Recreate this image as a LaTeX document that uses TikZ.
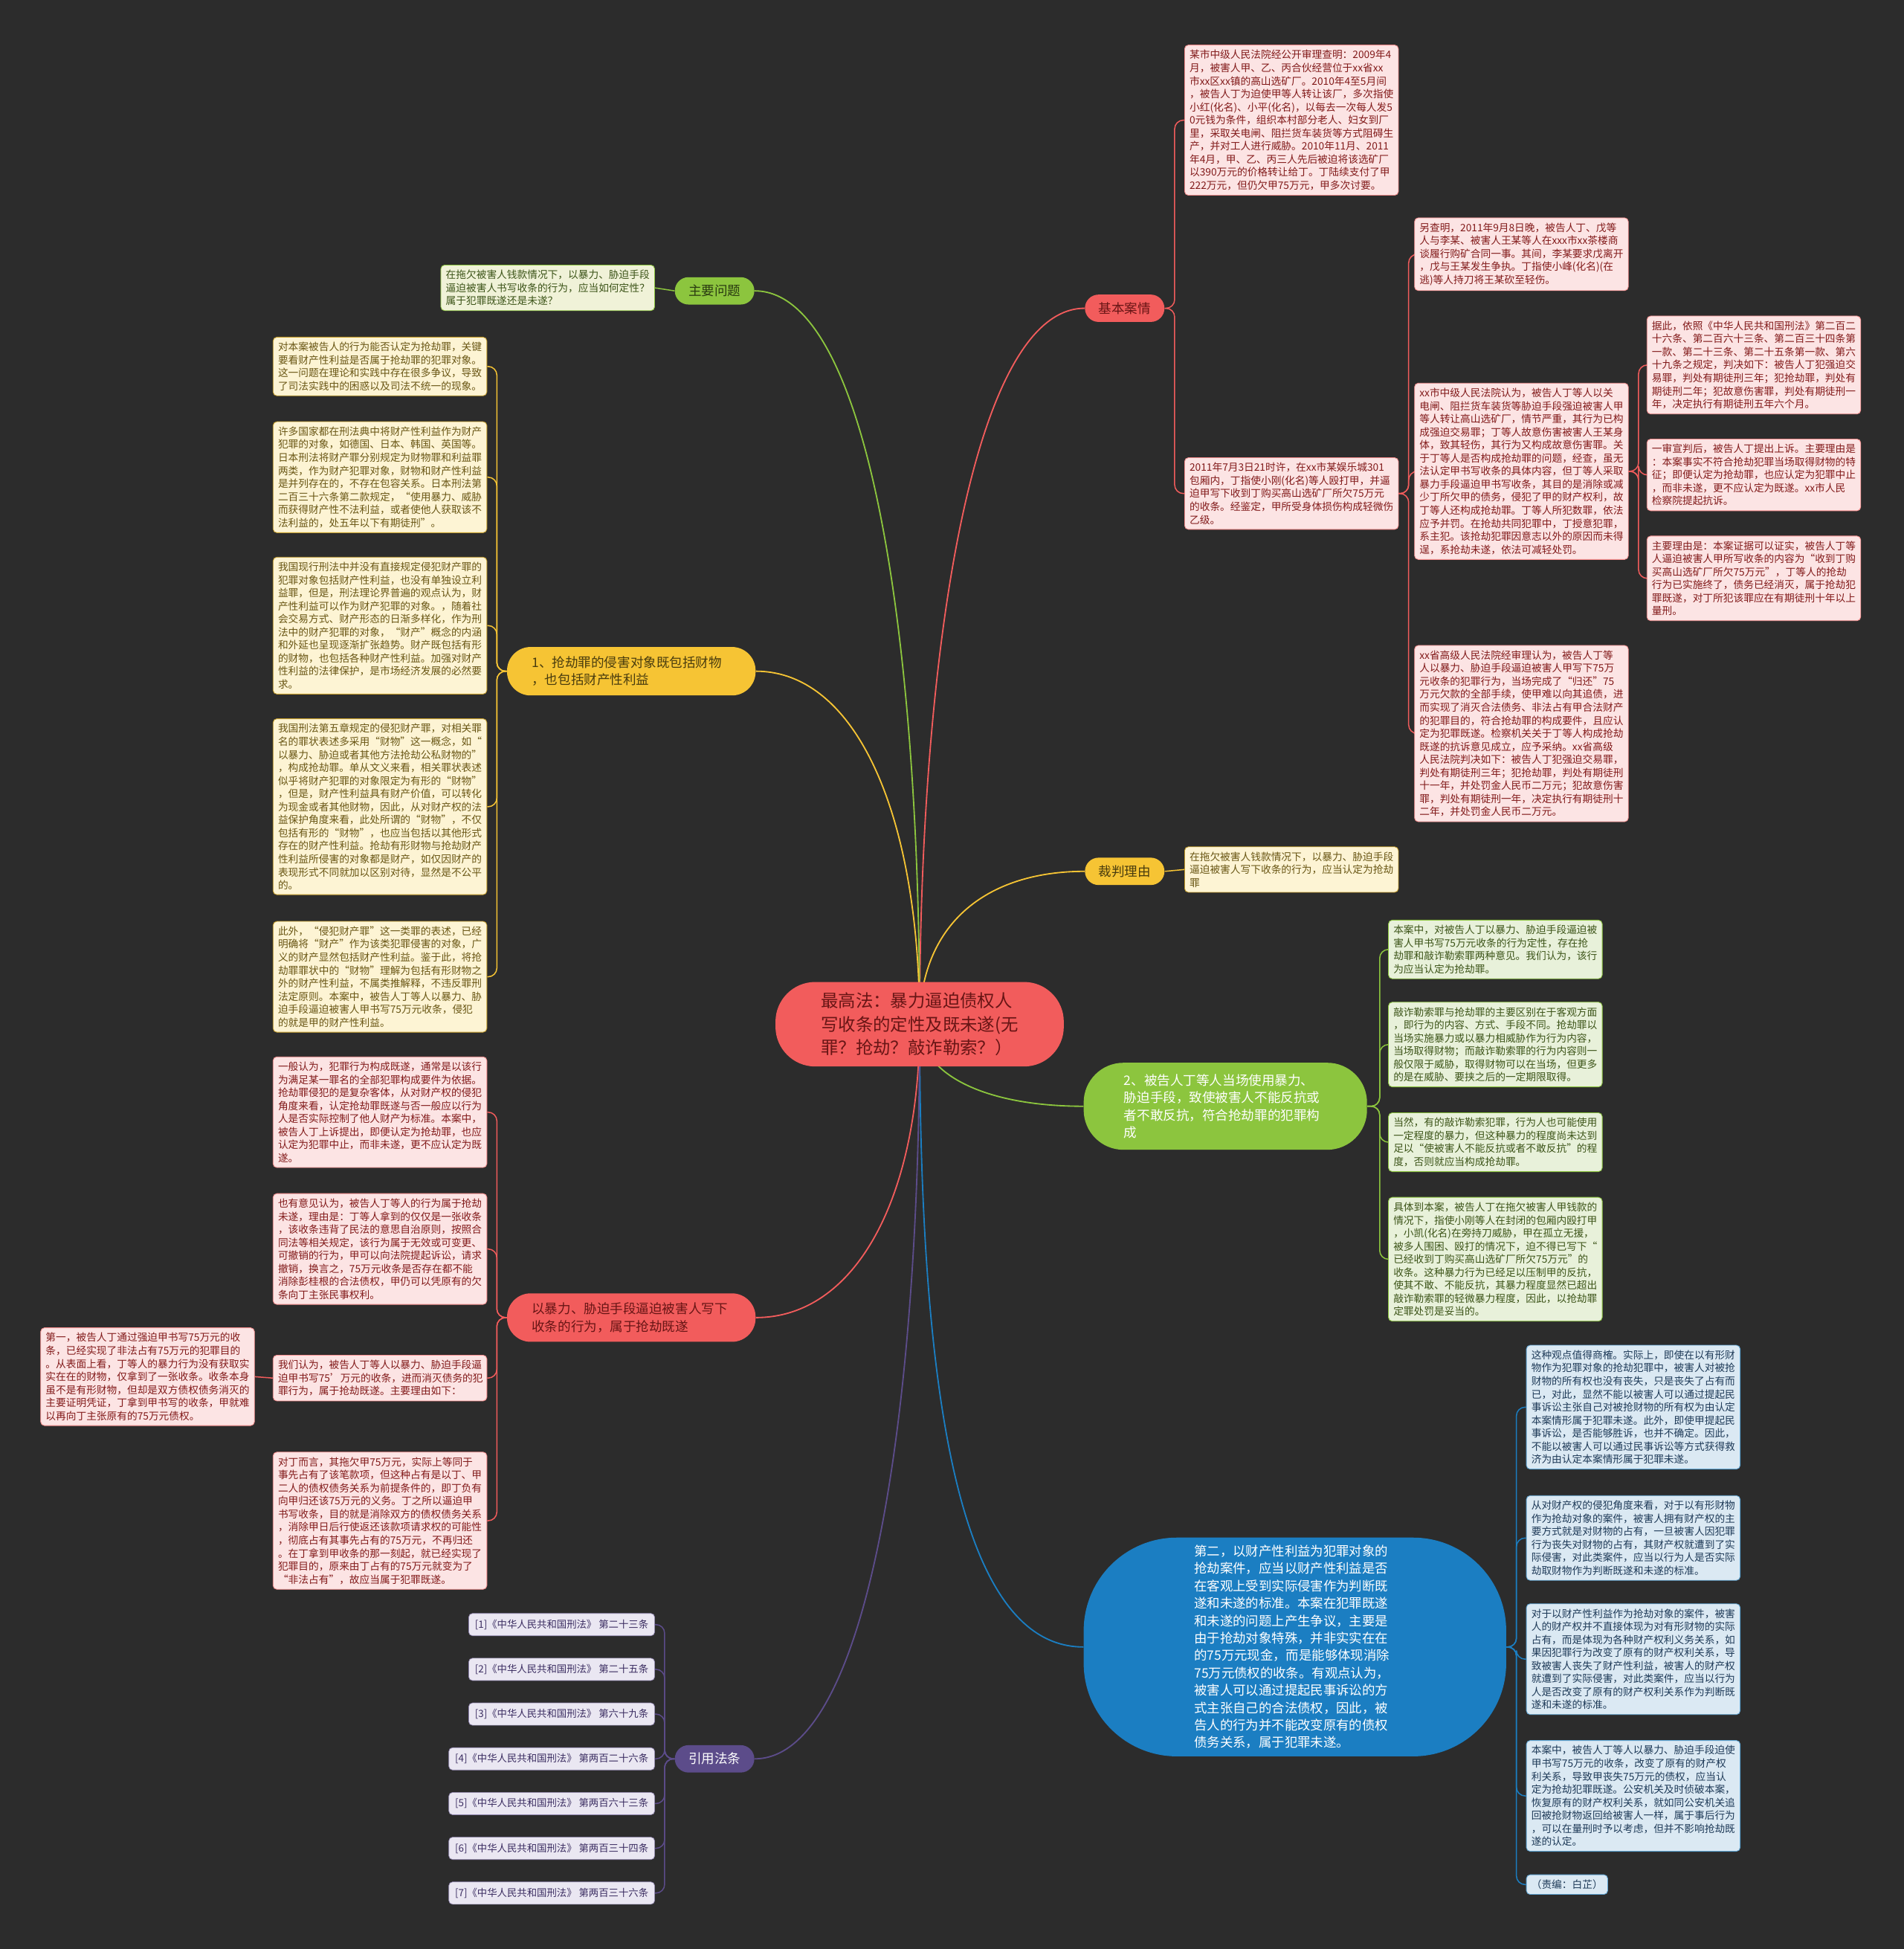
\documentclass[tikz,border=0pt]{standalone}
\usepackage{fontspec}
\setmainfont{Noto Sans CJK SC}
\usetikzlibrary{calc,backgrounds}
\definecolor{bgdark}{RGB}{44,44,44}
\definecolor{mapred}{RGB}{242,92,92}
\definecolor{mapyellow}{RGB}{246,196,52}
\definecolor{mapgreen}{RGB}{140,197,62}
\definecolor{mapblue}{RGB}{27,126,194}
\definecolor{mappurple}{RGB}{92,76,138}
\definecolor{redfill}{RGB}{252,228,228}
\definecolor{yellowfill}{RGB}{253,244,212}
\definecolor{greenfill}{RGB}{232,241,218}
\definecolor{bluefill}{RGB}{219,233,243}
\definecolor{purplefill}{RGB}{234,231,242}
\definecolor{redtext}{RGB}{130,26,26}
\definecolor{yellowtext}{RGB}{105,86,20}
\definecolor{greentext}{RGB}{60,84,24}
\definecolor{bluetext}{RGB}{30,58,88}
\definecolor{purpletext}{RGB}{60,46,98}

\tikzset{
  leaf/.style={rounded corners=3pt, inner xsep=4pt, inner ysep=4pt, text width=164pt,
    align=left, font=\fontsize{8.2}{10.5}\selectfont, line width=0.5pt},
  redleaf/.style={leaf, fill=redfill, draw=mapred!70, text=redtext},
  yellowleaf/.style={leaf, fill=yellowfill, draw=mapyellow!80!black, text=yellowtext},
  greenleaf/.style={leaf, fill=greenfill, draw=mapgreen, text=greentext},
  blueleaf/.style={leaf, fill=bluefill, draw=mapblue!70, text=bluetext},
  topic/.style={rounded corners=11pt, minimum height=22pt, inner xsep=11pt, inner ysep=2pt,
    font=\fontsize{10.5}{14}\selectfont},
  bigtopic/.style={rounded corners=19pt, minimum width=200pt, minimum height=39pt,
    text width=160pt, align=left, font=\fontsize{10.5}{14}\selectfont},
  reflabel/.style={rounded corners=3pt, fill=purplefill, draw=mappurple!70, text=purpletext,
    minimum height=18pt, inner xsep=5pt, inner ysep=1pt, font=\fontsize{8}{10}\selectfont},
  link/.style={line width=0.9pt, rounded corners=7pt},
  branch/.style={line width=1.1pt},
}

\begin{document}
\begin{tikzpicture}[x=1pt,y=-1pt]
\useasboundingbox (0,0) rectangle (1532,1568);

% centre
\node[fill=mapred, rounded corners=32pt, minimum width=232pt, minimum height=68pt,
  align=left, text=redtext!80!black, font=\fontsize{14}{19}\selectfont] (root) at (740,824)
  {最高法：暴力逼迫债权人\\写收条的定性及既未遂(无\\罪？抢劫？敲诈勒索？）};

% ---------- right: case facts
\node[topic, fill=mapred, text=redtext!80!black] (facts) at (905,248) {基本案情};
\node[redleaf, anchor=north west] (factA) at (953,36) {某市中级人民法院经公开审理查明：2009年4\\月，被害人甲、乙、丙合伙经营位于xx省xx\\市xx区xx镇的高山选矿厂。2010年4至5月间\\，被告人丁为迫使甲等人转让该厂，多次指使\\小红(化名)、小平(化名)，以每去一次每人发5\\0元钱为条件，组织本村部分老人、妇女到厂\\里，采取关电闸、阻拦货车装货等方式阻碍生\\产，并对工人进行威胁。2010年11月、2011\\年4月，甲、乙、丙三人先后被迫将该选矿厂\\以390万元的价格转让给丁。丁陆续支付了甲\\222万元，但仍欠甲75万元，甲多次讨要。};
\node[redleaf, anchor=north west] (factB) at (953,368) {2011年7月3日21时许，在xx市某娱乐城301\\包厢内，丁指使小刚(化名)等人殴打甲，并逼\\迫甲写下收到丁购买高山选矿厂所欠75万元\\的收条。经鉴定，甲所受身体损伤构成轻微伤\\乙级。};
\node[redleaf, anchor=north west] (factC) at (1138,175) {另查明，2011年9月8日晚，被告人丁、戊等\\人与李某、被害人王某等人在xxx市xx茶楼商\\谈履行购矿合同一事。其间，李某要求戊离开\\，戊与王某发生争执。丁指使小峰(化名)(在\\逃)等人持刀将王某砍至轻伤。};
\node[redleaf, anchor=north west] (factD) at (1138,308) {xx市中级人民法院认为，被告人丁等人以关\\电闸、阻拦货车装货等胁迫手段强迫被害人甲\\等人转让高山选矿厂，情节严重，其行为已构\\成强迫交易罪；丁等人故意伤害被害人王某身\\体，致其轻伤，其行为又构成故意伤害罪。关\\于丁等人是否构成抢劫罪的问题，经查，虽无\\法认定甲书写收条的具体内容，但丁等人采取\\暴力手段逼迫甲书写收条，其目的是消除或减\\少丁所欠甲的债务，侵犯了甲的财产权利，故\\丁等人还构成抢劫罪。丁等人所犯数罪，依法\\应予并罚。在抢劫共同犯罪中，丁授意犯罪，\\系主犯。该抢劫犯罪因意志以外的原因而未得\\逞，系抢劫未遂，依法可减轻处罚。};
\node[redleaf, anchor=north west] (factE) at (1138,519) {xx省高级人民法院经审理认为，被告人丁等\\人以暴力、胁迫手段逼迫被害人甲写下75万\\元收条的犯罪行为，当场完成了“归还”75\\万元欠款的全部手续，使甲难以向其追债，进\\而实现了消灭合法债务、非法占有甲合法财产\\的犯罪目的，符合抢劫罪的构成要件，且应认\\定为犯罪既遂。检察机关关于丁等人构成抢劫\\既遂的抗诉意见成立，应予采纳。xx省高级\\人民法院判决如下：被告人丁犯强迫交易罪，\\判处有期徒刑三年；犯抢劫罪，判处有期徒刑\\十一年，并处罚金人民币二万元；犯故意伤害\\罪，判处有期徒刑一年，决定执行有期徒刑十\\二年，并处罚金人民币二万元。};
\node[redleaf, anchor=north west] (factF) at (1325,254) {据此，依照《中华人民共和国刑法》第二百二\\十六条、第二百六十三条、第二百三十四条第\\一款、第二十三条、第二十五条第一款、第六\\十九条之规定，判决如下：被告人丁犯强迫交\\易罪，判处有期徒刑三年；犯抢劫罪，判处有\\期徒刑二年；犯故意伤害罪，判处有期徒刑一\\年，决定执行有期徒刑五年六个月。};
\node[redleaf, anchor=north west] (factG) at (1325,353) {一审宣判后，被告人丁提出上诉。主要理由是\\：本案事实不符合抢劫犯罪当场取得财物的特\\征；即便认定为抢劫罪，也应认定为犯罪中止\\，而非未遂，更不应认定为既遂。xx市人民\\检察院提起抗诉。};
\node[redleaf, anchor=north west] (factH) at (1325,431) {主要理由是：本案证据可以证实，被告人丁等\\人逼迫被害人甲所写收条的内容为“收到丁购\\买高山选矿厂所欠75万元”，丁等人的抢劫\\行为已实施终了，债务已经消灭，属于抢劫犯\\罪既遂，对丁所犯该罪应在有期徒刑十年以上\\量刑。};

% ---------- right: reasons
\node[topic, fill=mapyellow, text=yellowtext!70!black] (judge) at (905,701) {裁判理由};
\node[yellowleaf, anchor=north west] (judgeA) at (953,681) {在拖欠被害人钱款情况下，以暴力、胁迫手段\\逼迫被害人写下收条的行为，应当认定为抢劫\\罪};

\node[bigtopic, fill=mapgreen, minimum width=228pt, minimum height=70pt, rounded corners=32pt,
  text width=163pt, text=white] (force) at (986,890) {2、被告人丁等人当场使用暴力、\\胁迫手段，致使被害人不能反抗或\\者不敢反抗，符合抢劫罪的犯罪构\\成};
\node[greenleaf, anchor=north west] (forceA) at (1117,740) {本案中，对被告人丁以暴力、胁迫手段逼迫被\\害人甲书写75万元收条的行为定性，存在抢\\劫罪和敲诈勒索罪两种意见。我们认为，该行\\为应当认定为抢劫罪。};
\node[greenleaf, anchor=north west] (forceB) at (1117,806) {敲诈勒索罪与抢劫罪的主要区别在于客观方面\\，即行为的内容、方式、手段不同。抢劫罪以\\当场实施暴力或以暴力相威胁作为行为内容，\\当场取得财物；而敲诈勒索罪的行为内容则一\\般仅限于威胁，取得财物可以在当场，但更多\\的是在威胁、要挟之后的一定期限取得。};
\node[greenleaf, anchor=north west] (forceC) at (1117,895) {当然，有的敲诈勒索犯罪，行为人也可能使用\\一定程度的暴力，但这种暴力的程度尚未达到\\足以“使被害人不能反抗或者不敢反抗”的程\\度，否则就应当构成抢劫罪。};
\node[greenleaf, anchor=north west] (forceD) at (1117,963) {具体到本案，被告人丁在拖欠被害人甲钱款的\\情况下，指使小刚等人在封闭的包厢内殴打甲\\，小凯(化名)在旁持刀威胁，甲在孤立无援，\\被多人围困、殴打的情况下，迫不得已写下“\\已经收到丁购买高山选矿厂所欠75万元”的\\收条。这种暴力行为已经足以压制甲的反抗，\\使其不敢、不能反抗，其暴力程度显然已超出\\敲诈勒索罪的轻微暴力程度，因此，以抢劫罪\\定罪处罚是妥当的。};

\node[fill=mapblue, rounded corners=75pt, minimum width=340pt, minimum height=176pt,
  text width=162pt, align=left, text=white, font=\fontsize{10.4}{14}\selectfont] (second) at (1042,1325)
  {第二，以财产性利益为犯罪对象的\\抢劫案件，应当以财产性利益是否\\在客观上受到实际侵害作为判断既\\遂和未遂的标准。本案在犯罪既遂\\和未遂的问题上产生争议，主要是\\由于抢劫对象特殊，并非实实在在\\的75万元现金，而是能够体现消除\\75万元债权的收条。有观点认为，\\被害人可以通过提起民事诉讼的方\\式主张自己的合法债权，因此，被\\告人的行为并不能改变原有的债权\\债务关系，属于犯罪未遂。};
\node[blueleaf, anchor=north west] (secondA) at (1228,1082) {这种观点值得商榷。实际上，即使在以有形财\\物作为犯罪对象的抢劫犯罪中，被害人对被抢\\财物的所有权也没有丧失，只是丧失了占有而\\已，对此，显然不能以被害人可以通过提起民\\事诉讼主张自己对被抢财物的所有权为由认定\\本案情形属于犯罪未遂。此外，即使甲提起民\\事诉讼，是否能够胜诉，也并不确定。因此，\\不能以被害人可以通过民事诉讼等方式获得救\\济为由认定本案情形属于犯罪未遂。};
\node[blueleaf, anchor=north west] (secondB) at (1228,1203) {从对财产权的侵犯角度来看，对于以有形财物\\作为抢劫对象的案件，被害人拥有财产权的主\\要方式就是对财物的占有，一旦被害人因犯罪\\行为丧失对财物的占有，其财产权就遭到了实\\际侵害，对此类案件，应当以行为人是否实际\\劫取财物作为判断既遂和未遂的标准。};
\node[blueleaf, anchor=north west] (secondC) at (1228,1290) {对于以财产性利益作为抢劫对象的案件，被害\\人的财产权并不直接体现为对有形财物的实际\\占有，而是体现为各种财产权利义务关系，如\\果因犯罪行为改变了原有的财产权利关系，导\\致被害人丧失了财产性利益，被害人的财产权\\就遭到了实际侵害，对此类案件，应当以行为\\人是否改变了原有的财产权利关系作为判断既\\遂和未遂的标准。};
\node[blueleaf, anchor=north west] (secondD) at (1228,1400) {本案中，被告人丁等人以暴力、胁迫手段迫使\\甲书写75万元的收条，改变了原有的财产权\\利关系，导致甲丧失75万元的债权，应当认\\定为抢劫犯罪既遂。公安机关及时侦破本案，\\恢复原有的财产权利关系，就如同公安机关追\\回被抢财物返回给被害人一样，属于事后行为\\，可以在量刑时予以考虑，但并不影响抢劫既\\遂的认定。};
\node[blueleaf, text width=, anchor=north west] (secondE) at (1228,1508) {（责编：白芷）};

% ---------- left side
\node[topic, fill=mapgreen, text=greentext!70!black] (issue) at (575,234) {主要问题};
\node[leaf, fill=greenfill!60!yellowfill, draw=mapgreen, text=greentext, anchor=north east] (issueA) at (527,213) {在拖欠被害人钱款情况下，以暴力、胁迫手段\\逼迫被害人书写收条的行为，应当如何定性？\\属于犯罪既遂还是未遂？};

\node[bigtopic, fill=mapyellow, text=yellowtext!70!black] (object) at (508,540) {1、抢劫罪的侵害对象既包括财物\\，也包括财产性利益};
\node[yellowleaf, anchor=north east] (objectA) at (392,271) {对本案被告人的行为能否认定为抢劫罪，关键\\要看财产性利益是否属于抢劫罪的犯罪对象。\\这一问题在理论和实践中存在很多争议，导致\\了司法实践中的困惑以及司法不统一的现象。};
\node[yellowleaf, anchor=north east] (objectB) at (392,339) {许多国家都在刑法典中将财产性利益作为财产\\犯罪的对象，如德国、日本、韩国、英国等。\\日本刑法将财产罪分别规定为财物罪和利益罪\\两类，作为财产犯罪对象，财物和财产性利益\\是并列存在的，不存在包容关系。日本刑法第\\二百三十六条第二款规定，“使用暴力、威胁\\而获得财产性不法利益，或者使他人获取该不\\法利益的，处五年以下有期徒刑”。};
\node[yellowleaf, anchor=north east] (objectC) at (392,448) {我国现行刑法中并没有直接规定侵犯财产罪的\\犯罪对象包括财产性利益，也没有单独设立利\\益罪，但是，刑法理论界普遍的观点认为，财\\产性利益可以作为财产犯罪的对象。，随着社\\会交易方式、财产形态的日渐多样化，作为刑\\法中的财产犯罪的对象，“财产”概念的内涵\\和外延也呈现逐渐扩张趋势。财产既包括有形\\的财物，也包括各种财产性利益。加强对财产\\性利益的法律保护，是市场经济发展的必然要\\求。};
\node[yellowleaf, anchor=north east] (objectD) at (392,578) {我国刑法第五章规定的侵犯财产罪，对相关罪\\名的罪状表述多采用“财物”这一概念，如“\\以暴力、胁迫或者其他方法抢劫公私财物的”\\，构成抢劫罪。单从文义来看，相关罪状表述\\似乎将财产犯罪的对象限定为有形的“财物”\\，但是，财产性利益具有财产价值，可以转化\\为现金或者其他财物，因此，从对财产权的法\\益保护角度来看，此处所谓的“财物”，不仅\\包括有形的“财物”，也应当包括以其他形式\\存在的财产性利益。抢劫有形财物与抢劫财产\\性利益所侵害的对象都是财产，如仅因财产的\\表现形式不同就加以区别对待，显然是不公平\\的。};
\node[yellowleaf, anchor=north east] (objectE) at (392,741) {此外，“侵犯财产罪”这一类罪的表述，已经\\明确将“财产”作为该类犯罪侵害的对象，广\\义的财产显然包括财产性利益。鉴于此，将抢\\劫罪罪状中的“财物”理解为包括有形财物之\\外的财产性利益，不属类推解释，不违反罪刑\\法定原则。本案中，被告人丁等人以暴力、胁\\迫手段逼迫被害人甲书写75万元收条，侵犯\\的就是甲的财产性利益。};

\node[bigtopic, fill=mapred, text=redtext!80!black] (done) at (508,1060) {以暴力、胁迫手段逼迫被害人写下\\收条的行为，属于抢劫既遂};
\node[redleaf, anchor=north east] (doneA) at (392,850) {一般认为，犯罪行为构成既遂，通常是以该行\\为满足某一罪名的全部犯罪构成要件为依据。\\抢劫罪侵犯的是复杂客体，从对财产权的侵犯\\角度来看，认定抢劫罪既遂与否一般应以行为\\人是否实际控制了他人财产为标准。本案中，\\被告人丁上诉提出，即便认定为抢劫罪，也应\\认定为犯罪中止，而非未遂，更不应认定为既\\遂。};
\node[redleaf, anchor=north east] (doneB) at (392,960) {也有意见认为，被告人丁等人的行为属于抢劫\\未遂，理由是：丁等人拿到的仅仅是一张收条\\，该收条违背了民法的意思自治原则，按照合\\同法等相关规定，该行为属于无效或可变更、\\可撤销的行为，甲可以向法院提起诉讼，请求\\撤销，换言之，75万元收条是否存在都不能\\消除彭桂根的合法债权，甲仍可以凭原有的欠\\条向丁主张民事权利。};
\node[redleaf, anchor=north east] (doneC) at (392,1090) {我们认为，被告人丁等人以暴力、胁迫手段逼\\迫甲书写75'万元的收条，进而消灭债务的犯\\罪行为，属于抢劫既遂。主要理由如下：};
\node[redleaf, anchor=north east] (doneD) at (392,1168) {对丁而言，其拖欠甲75万元，实际上等同于\\事先占有了该笔款项，但这种占有是以丁、甲\\二人的债权债务关系为前提条件的，即丁负有\\向甲归还该75万元的义务。丁之所以逼迫甲\\书写收条，目的就是消除双方的债权债务关系\\，消除甲日后行使返还该款项请求权的可能性\\，彻底占有其事先占有的75万元，不再归还\\。在丁拿到甲收条的那一刻起，就已经实现了\\犯罪目的，原来由丁占有的75万元就变为了\\“非法占有”，故应当属于犯罪既遂。};
\node[redleaf, anchor=north east] (doneE) at (205,1068) {第一，被告人丁通过强迫甲书写75万元的收\\条，已经实现了非法占有75万元的犯罪目的\\。从表面上看，丁等人的暴力行为没有获取实\\实在在的财物，仅拿到了一张收条。收条本身\\虽不是有形财物，但却是双方债权债务消灭的\\主要证明凭证，丁拿到甲书写的收条，甲就难\\以再向丁主张原有的75万元债权。};

\node[topic, fill=mappurple, text=white] (law) at (575,1415) {引用法条};
\foreach \n/\y/\t in {1/1307/第二十三条, 2/1343/第二十五条, 3/1379/第六十九条,
    4/1415/第两百二十六条, 5/1451/第两百六十三条, 6/1487/第两百三十四条, 7/1523/第两百三十六条}
  \node[reflabel, anchor=east] (law\n) at (527,\y) {[\n]《中华人民共和国刑法》 \t};

% ---------- connectors
\begin{scope}[on background layer]
\fill[bgdark] (0,0) rectangle (1532,1568);
\coordinate (hub) at (740,824);
\draw[branch, mapred] (hub) .. controls +(0,-300) and +(-90,0) .. (facts.west);
\draw[branch, mapyellow] (hub) .. controls +(0,-80) and +(-80,0) .. (judge.west);
\draw[branch, mapgreen] (hub) .. controls +(0,40) and +(-80,0) .. (force.west);
\draw[branch, mapblue] (hub) .. controls +(0,300) and +(-100,0) .. (second.west);
\draw[branch, mapgreen] (hub) .. controls +(0,-320) and +(90,0) .. (issue.east);
\draw[branch, mapyellow] (hub) .. controls +(0,-170) and +(80,0) .. (object.east);
\draw[branch, mapred] (hub) .. controls +(0,140) and +(80,0) .. (done.east);
\draw[branch, mappurple] (hub) .. controls +(0,320) and +(90,0) .. (law.east);

\foreach \c in {factA,factB}
  \draw[link, mapred] (facts.east) -- ++(8,0) |- (\c.west);
\foreach \c in {factC,factD,factE}
  \draw[link, mapred] (factB.east) -- ++(8,0) |- (\c.west);
\foreach \c in {factF,factG,factH}
  \draw[link, mapred] (factD.east) -- ++(8,0) |- (\c.west);
\draw[link, mapyellow] (judge.east) -- (judgeA.west);
\foreach \c in {forceA,forceB,forceC,forceD}
  \draw[link, mapgreen] (force.east) -- ++(10,0) |- (\c.west);
\foreach \c in {secondA,secondB,secondC,secondD,secondE}
  \draw[link, mapblue] (second.east) -- ++(8,0) |- (\c.west);
\draw[link, mapgreen] (issue.west) -- (issueA.east);
\foreach \c in {objectA,objectB,objectC,objectD,objectE}
  \draw[link, mapyellow] (object.west) -- ++(-8,0) |- (\c.east);
\foreach \c in {doneA,doneB,doneC,doneD}
  \draw[link, mapred] (done.west) -- ++(-8,0) |- (\c.east);
\draw[link, mapred] (doneC.west) -- (doneE.east);
\foreach \n in {1,...,7}
  \draw[link, mappurple] (law.west) -- ++(-8,0) |- (law\n.east);
\end{scope}
\end{tikzpicture}
\end{document}
